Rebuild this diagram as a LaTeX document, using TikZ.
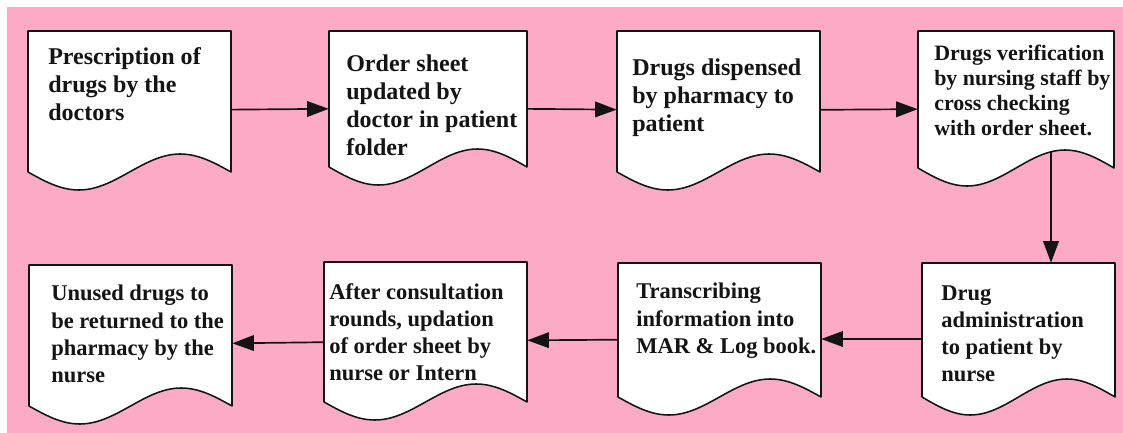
\documentclass[tikz,border=0pt]{standalone}
\usepackage{fontspec}
\setmainfont{Liberation Serif}
\usepackage{xcolor}
\usepackage{tikz}
\usetikzlibrary{arrows.meta}
\usetikzlibrary{fit, positioning}

% document shape: outline with a wavy bottom, plus a named area for the arrows
\newcommand{\docshape}[5]{%
  \filldraw[docline] (#2,#3) -- (#4,#3) -- (#4,#5)
    sin ({#4-(#4-#2)/4},{#5-\A}) cos ({(#2+#4)/2},#5)
    sin ({#2+(#4-#2)/4},{#5+\A}) cos (#2,#5) -- cycle;
  \node[docarea, fit={(#2,#3) (#4,{#5+\A})}] (#1) {};
}

\begin{document}
\begin{tikzpicture}[
      % un pixel del disegno originale
      x={(0.025cm,0cm)},
      y={(0cm,-0.025cm)},
      line join=round,
      line cap=round
  ]

  % Parametri
  \def\A{18}  % ampiezza dell'onda in basso

  % Colori
  \definecolor{bgpink}{RGB}{252, 170, 197}
  \definecolor{inkdark}{RGB}{20, 20, 20}

  \tikzset{
      docline/.style={draw=inkdark, fill=white, line width=1.1pt},
      docarea/.style={draw=none, inner sep=0pt},
      doctext/.style={anchor=north west, inner sep=0pt, align=left, text=inkdark,
                      font=\fontsize{16}{19.4}\selectfont\bfseries},
      toptext/.style={doctext, font=\fontsize{17.1}{19.9}\selectfont\bfseries},
      flow/.style={draw=inkdark, line width=1.2pt, -{Triangle[length=5.4mm, width=3.9mm]}}
  }

  \useasboundingbox (0,0) rectangle (1123,433);
  \fill[bgpink] (7,7) rectangle (1123,433);

  % 1. Riga superiore
  \docshape{b1}{28}{31}{231}{172}
  \docshape{b2}{329}{31}{527}{167}
  \docshape{b3}{617}{31}{820}{172}
  \docshape{b4}{918}{31}{1114}{168}

  \node[toptext] (t1) at (48,47) {Prescription of\\drugs by the\\doctors};
  \node[toptext] (t2) at (346,55) {Order sheet\\updated by\\doctor in patient\\folder};
  \node[toptext] (t3) at (632,59) {Drugs dispensed\\by pharmacy to\\patient};
  \node[doctext, font=\fontsize{15.6}{17.8}\selectfont\bfseries] (t4) at (934,45)
      {Drugs verification\\by nursing staff by\\cross checking\\with order sheet.};

  % 2. Riga inferiore
  \docshape{b5}{29}{265}{232}{406}
  \docshape{b6}{324}{262}{527}{402}
  \docshape{b7}{618}{263}{821}{397}
  \docshape{b8}{922}{263}{1115}{397}

  \node[doctext] (t5) at (51,285) {Unused drugs to\\be returned to the\\pharmacy by the\\nurse};
  \node[doctext] (t6) at (329,283) {After consultation\\rounds, updation\\of order sheet by\\nurse or Intern};
  \node[doctext] (t7) at (636,283) {Transcribing\\information into\\MAR \& Log book.};
  \node[doctext] (t8) at (941,285) {Drug\\administration\\to patient by\\nurse};

  % 3. Frecce
  \coordinate (b4peak) at (1051,152);
  \draw[flow] (b1) -- (b2);
  \draw[flow] (b2) -- (b3);
  \draw[flow] (b3) -- (b4);
  \draw[flow] (b4peak) -- (b4peak |- b8.north);
  \draw[flow] (b8) -- (b7);
  \draw[flow] (b7) -- (b6);
  \draw[flow] (b6) -- (b5);

\end{tikzpicture}
\end{document}
